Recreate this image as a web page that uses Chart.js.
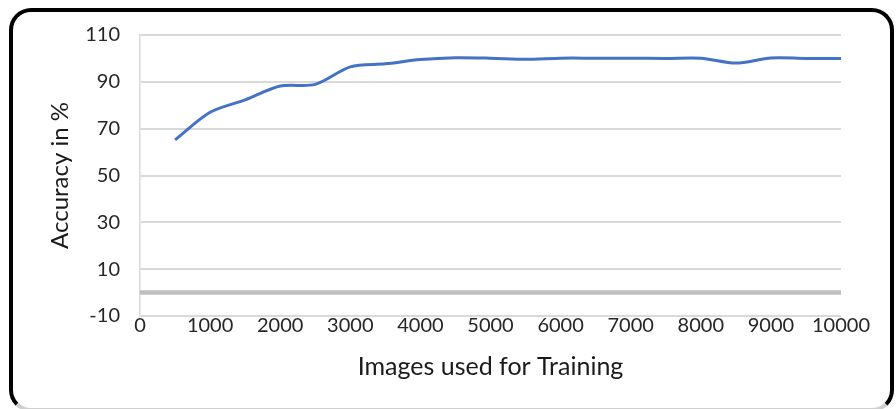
<!DOCTYPE html>
<html>
<head>
<meta charset="utf-8">
<script src="https://cdn.jsdelivr.net/npm/chart.js@4"></script>
<style>
  html, body { margin: 0; padding: 0; background: #ffffff; overflow: hidden; }
  #wrap { position: relative; width: 896px; height: 409px; }
  #frame {
    position: absolute; left: 9px; top: 8px; width: 877px; height: 396px;
    border: 4px solid #000; border-bottom-color: #cfcfcf; border-radius: 22px;
    pointer-events: none;
  }
  canvas { position: absolute; left: 0; top: 0; }
</style>
</head>
<body>
<div id="wrap">
  <canvas id="chart" width="896" height="409"></canvas>
  <div id="frame"></div>
</div>
<script>
// Training-set size (images) and measured accuracy (%)
const imagesUsed = [500, 1000, 1500, 2000, 2500, 3000, 3500, 4000, 4500, 5000,
                    5500, 6000, 6500, 7000, 7500, 8000, 8500, 9000, 9500, 10000];
const accuracy   = [65.2, 77.0, 82.3, 88.2, 88.9, 96.4, 97.7, 99.5, 100.3, 100.1,
                    99.6, 100.1, 100.1, 100.1, 100.0, 100.1, 98.0, 100.2, 100.0, 100.0];

const yTicks = [-10, 10, 30, 50, 70, 90, 110];
const xTicks = [0, 1000, 2000, 3000, 4000, 5000, 6000, 7000, 8000, 9000, 10000];

const FONT = "Lato, 'Open Sans', sans-serif";

// Horizontal axis line crossing at accuracy 0
const zeroLine = {
  id: 'zeroLine',
  beforeDatasetsDraw(chart) {
    const { ctx, chartArea, scales } = chart;
    const y = scales.y.getPixelForValue(0);
    ctx.save();
    ctx.strokeStyle = '#bfbfbf';
    ctx.lineWidth = 4.5;
    ctx.beginPath();
    ctx.moveTo(chartArea.left, y);
    ctx.lineTo(chartArea.right, y);
    ctx.stroke();
    ctx.restore();
  }
};

new Chart(document.getElementById('chart'), {
  type: 'line',
  data: {
    datasets: [{
      data: imagesUsed.map((x, i) => ({ x, y: accuracy[i] })),
      borderColor: '#4472C4',
      borderWidth: 3,
      pointRadius: 0,
      tension: 0.3,
      fill: false
    }]
  },
  options: {
    responsive: false,
    animation: false,
    layout: { padding: { top: 35, right: 55, left: 0, bottom: 0 } },
    plugins: { legend: { display: false }, tooltip: { enabled: false } },
    scales: {
      x: {
        type: 'linear',
        min: 0, max: 10000,
        afterBuildTicks(scale) { scale.ticks = xTicks.map(v => ({ value: v })); },
        afterFit(scale) { scale.height = 93; },
        grid: { display: false, drawTicks: false },
        border: { display: false },
        ticks: {
          padding: 0,
          maxRotation: 0,
          autoSkip: false,
          color: '#262626',
          font: { family: FONT, size: 20, lineHeight: 1 },
          callback: v => String(v)
        },
        title: {
          display: true,
          text: 'Images used for Training',
          color: '#1a1a1a',
          font: { family: FONT, size: 25 },
          padding: { top: 0, bottom: 27 }
        }
      },
      y: {
        min: -10, max: 110,
        afterBuildTicks(scale) { scale.ticks = yTicks.map(v => ({ value: v })); },
        afterFit(scale) { scale.width = 140; },
        grid: { color: '#d9d9d9', lineWidth: 2, drawTicks: false },
        border: { display: true, color: '#d9d9d9', width: 1.5 },
        ticks: {
          padding: 20,
          autoSkip: false,
          color: '#262626',
          font: { family: FONT, size: 20 }
        },
        title: {
          display: true,
          text: 'Accuracy in %',
          color: '#1a1a1a',
          font: { family: FONT, size: 24 },
          padding: { top: 45.6, bottom: 0 }
        }
      }
    }
  },
  plugins: [zeroLine]
});
</script>
</body>
</html>
